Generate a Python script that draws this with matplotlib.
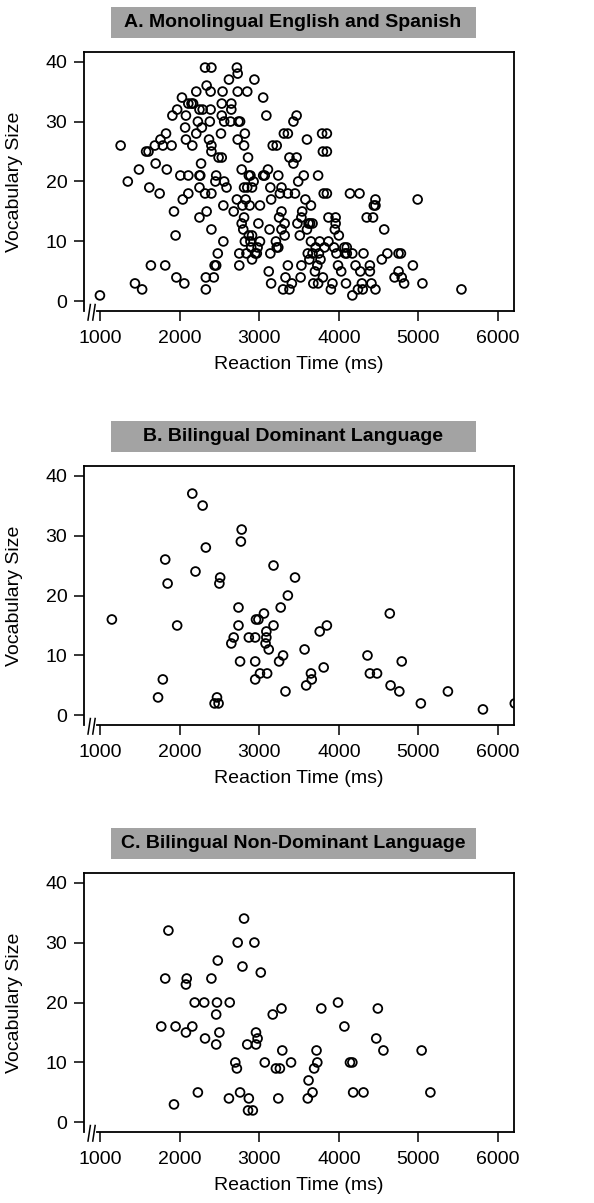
import matplotlib.pyplot as plt
from matplotlib.patches import Rectangle

plt.rcParams['font.family'] = ['Liberation Sans', 'DejaVu Sans']

titles = [
    "A. Monolingual English and Spanish",
    "B. Bilingual Dominant Language",
    "C. Bilingual Non-Dominant Language",
]

# panel A - monolingual
mono_rt = [1000, 1260, 1350, 1440, 1490, 1530, 1580, 1610, 1620, 1640,
           1690, 1700, 1750, 1760, 1790, 1820, 1830, 1840, 1900, 1910,
           1930, 1950, 1960, 1970, 2010, 2030, 2040, 2060, 2070, 2080,
           2080, 2110, 2110, 2110, 2150, 2170, 2160, 2210, 2210, 2230,
           2250, 2260, 2250, 2250, 2250, 2270, 2280, 2290, 2320, 2320,
           2330, 2330, 2340, 2340, 2370, 2380, 2390, 2390, 2400, 2400,
           2400, 2400, 2400, 2430, 2440, 2460, 2460, 2450, 2480, 2490,
           2530, 2520, 2530, 2530, 2540, 2550, 2550, 2560, 2560, 2590,
           2620, 2640, 2650, 2650, 2680, 2720, 2730, 2720, 2730, 2730,
           2740, 2760, 2750, 2750, 2780, 2780, 2790, 2800, 2810, 2810,
           2810, 2820, 2820, 2830, 2840, 2850, 2850, 2860, 2870, 2870,
           2890, 2880, 2890, 2900, 2910, 2910, 2910, 2930, 2940, 2950,
           2970, 2980, 2990, 3010, 3010, 3050, 3050, 3070, 3090, 3110,
           3120, 3130, 3140, 3140, 3150, 3150, 3170, 3220, 3210, 3220,
           3240, 3240, 3250, 3260, 3280, 3280, 3280, 3300, 3310, 3360,
           3320, 3320, 3330, 3360, 3360, 3380, 3380, 3410, 3430, 3430,
           3450, 3470, 3470, 3480, 3490, 3510, 3520, 3530, 3530, 3540,
           3560, 3580, 3600, 3600, 3610, 3620, 3640, 3670, 3630, 3650,
           3650, 3670, 3680, 3700, 3710, 3730, 3740, 3740, 3750, 3760,
           3770, 3790, 3850, 3800, 3800, 3850, 3810, 3850, 3820, 3870,
           3870, 3900, 3920, 3940, 3950, 3960, 3960, 3970, 3990, 4000,
           4030, 4070, 4100, 4080, 4100, 4090, 4140, 4170, 4170, 4210,
           4240, 4260, 4270, 4290, 4300, 4310, 4350, 4390, 4390, 4410,
           4430, 4440, 4460, 4460, 4460, 4540, 4570, 4610, 4700, 4750,
           4750, 4780, 4790, 4820, 4930, 4990, 5050, 5540]
mono_vocab = [1, 26, 20, 3, 22, 2, 25, 25, 19, 6,
              26, 23, 18, 27, 26, 6, 28, 22, 26, 31,
              15, 11, 4, 32, 21, 34, 17, 3, 29, 27,
              31, 18, 33, 21, 33, 33, 26, 35, 28, 30,
              21, 21, 32, 19, 14, 23, 29, 32, 18, 39,
              2, 4, 15, 36, 27, 30, 32, 35, 26, 18,
              39, 25, 12, 4, 6, 6, 21, 20, 8, 24,
              24, 28, 31, 33, 35, 16, 10, 20, 30, 19,
              37, 30, 33, 32, 15, 39, 38, 17, 35, 27,
              30, 30, 8, 6, 22, 13, 16, 12, 14, 26,
              19, 10, 28, 17, 8, 35, 19, 24, 11, 21,
              21, 16, 10, 9, 11, 19, 7, 20, 37, 8,
              8, 9, 13, 10, 16, 34, 21, 21, 31, 22,
              5, 12, 19, 8, 17, 3, 26, 26, 10, 9,
              9, 21, 14, 18, 19, 15, 12, 2, 28, 28,
              11, 13, 4, 18, 6, 24, 2, 3, 30, 23,
              18, 24, 31, 13, 20, 11, 4, 6, 14, 15,
              21, 17, 12, 27, 8, 13, 13, 13, 7, 16,
              10, 8, 3, 5, 9, 6, 3, 21, 8, 10,
              7, 28, 28, 4, 25, 25, 18, 18, 9, 14,
              10, 2, 3, 9, 12, 14, 13, 8, 6, 11,
              5, 9, 9, 8, 8, 3, 18, 8, 1, 6,
              2, 18, 5, 3, 2, 8, 14, 6, 5, 3,
              14, 16, 16, 17, 2, 7, 12, 8, 4, 5,
              8, 8, 4, 3, 6, 17, 3, 2]

# panel B - bilingual dominant
dom_rt = [1150, 1730, 1790, 1820, 1850, 1970, 2160, 2200, 2290, 2330,
          2440, 2470, 2490, 2500, 2510, 2650, 2680, 2740, 2740, 2760,
          2770, 2780, 2870, 2950, 2950, 2950, 2960, 2990, 3010, 3060,
          3080, 3090, 3090, 3100, 3120, 3180, 3180, 3250, 3270, 3300,
          3330, 3360, 3450, 3570, 3590, 3650, 3660, 3760, 3810, 3850,
          4360, 4390, 4480, 4640, 4650, 4760, 4790, 5030, 5370, 5810,
          6210]
dom_vocab = [16, 3, 6, 26, 22, 15, 37, 24, 35, 28,
             2, 3, 2, 22, 23, 12, 13, 15, 18, 9,
             29, 31, 13, 6, 9, 13, 16, 16, 7, 17,
             12, 14, 13, 7, 11, 25, 15, 9, 18, 10,
             4, 20, 23, 11, 5, 7, 6, 14, 8, 15,
             10, 7, 7, 17, 5, 4, 9, 2, 4, 1,
             2]

# panel C - bilingual non-dominant
non_rt = [1770, 1820, 1860, 1930, 1950, 2080, 2080, 2090, 2160, 2190,
          2230, 2310, 2320, 2400, 2460, 2460, 2470, 2480, 2500, 2620,
          2630, 2700, 2720, 2730, 2760, 2790, 2810, 2850, 2860, 2870,
          2920, 2940, 2960, 2960, 2980, 3020, 3070, 3170, 3210, 3260,
          3240, 3280, 3290, 3400, 3610, 3620, 3670, 3690, 3720, 3730,
          3780, 3990, 4070, 4140, 4170, 4180, 4310, 4470, 4490, 4560,
          5040, 5150]
non_vocab = [16, 24, 32, 3, 16, 15, 23, 24, 16, 20,
             5, 20, 14, 24, 13, 18, 20, 27, 15, 4,
             20, 10, 9, 30, 5, 26, 34, 13, 2, 4,
             2, 30, 13, 15, 14, 25, 10, 18, 9, 9,
             4, 19, 12, 10, 4, 7, 5, 9, 12, 10,
             19, 20, 16, 10, 10, 5, 5, 14, 19, 12,
             12, 5]

panels = [(mono_rt, mono_vocab), (dom_rt, dom_vocab), (non_rt, non_vocab)]
box_tops = [52, 466, 873]   # pixel rows of the plot boxes

W, H = 594, 1203
fig = plt.figure(figsize=(W / 100, H / 100), dpi=100)

for (rt, vocab), title, top in zip(panels, titles, box_tops):
    left, width, height = 84, 430, 259
    ax = fig.add_axes([left / W, 1 - (top + height) / H, width / W, height / H])
    ax.scatter(rt, vocab, s=40, facecolors="none", edgecolors="black",
               linewidths=1.3, zorder=3)
    ax.set_xlim(800, 6200)
    ax.set_ylim(-1.6, 41.6)
    ax.set_xticks([1000, 2000, 3000, 4000, 5000, 6000])
    ax.set_yticks([0, 10, 20, 30, 40])
    ax.tick_params(direction="out", length=7, width=1.1, labelsize=14,
                   color="black", pad=5)
    ax.tick_params(axis="x", pad=7)
    for s in ax.spines.values():
        s.set_linewidth(1.3)
    ax.spines["bottom"].set_visible(False)

    # x axis line with a break near the origin
    ax.plot([960, 6200], [0, 0], color="black", lw=1.3,
            transform=ax.get_xaxis_transform(), clip_on=False)
    for xb in [865, 925]:
        ax.plot([xb - 15, xb + 15], [-0.035, 0.025], color="black", lw=1.1,
                transform=ax.get_xaxis_transform(), clip_on=False)

    ax.set_xlabel("Reaction Time (ms)", fontsize=14, labelpad=6)
    ax.set_ylabel("Vocabulary Size", fontsize=14)
    ax.yaxis.set_label_coords(-0.142, 0.5)

    # grey title strip
    fig.patches.append(Rectangle((111 / W, 1 - (top - 14) / H), 365 / W, 31 / H,
                                 transform=fig.transFigure, facecolor="#a3a3a3",
                                 edgecolor="none"))
    fig.text(293 / W, 1 - (top - 29.5) / H, title, ha="center", va="center",
             fontsize=14, fontweight="bold")

fig.savefig("out.png", dpi=100)
